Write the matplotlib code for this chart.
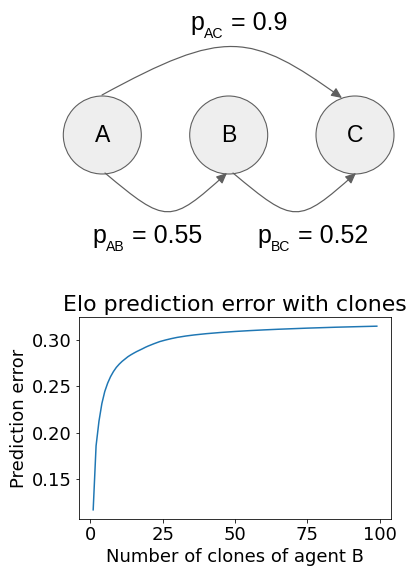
import matplotlib
matplotlib.use("Agg")
import matplotlib.pyplot as plt
from matplotlib import font_manager as fm
from matplotlib.patches import Circle, FancyArrowPatch
from matplotlib.path import Path

# diagram data
agents = ["A", "B", "C"]
edge_names = ["AC", "AB", "BC"]
edge_probs = [0.9, 0.55, 0.52]

# curve
clones = [1, 2, 3, 4, 5, 6, 7, 8, 9, 10, 11, 12, 13, 14, 15, 16, 17, 18, 19,
          20, 22, 24, 26, 28, 30, 33, 36, 40, 45, 50, 55, 60, 65, 70, 75, 80,
          85, 90, 95, 99]
pred_error = [0.117, 0.186, 0.2125, 0.2315, 0.2445, 0.2535, 0.2605, 0.266,
              0.2705, 0.274, 0.277, 0.2795, 0.282, 0.284, 0.2858, 0.2875,
              0.289, 0.2905, 0.2921, 0.2935, 0.296, 0.2983, 0.300, 0.3015,
              0.3028, 0.3043, 0.3055, 0.3068, 0.3081, 0.3092, 0.3101, 0.3109,
              0.3116, 0.3122, 0.3128, 0.3133, 0.3138, 0.3142, 0.3146, 0.3149]

# Arial-like font for the diagram (avoid the Narrow variant)
arial_file = None
for f in fm.fontManager.ttflist:
    if f.fname.endswith("LiberationSans-Regular.ttf"):
        arial_file = f.fname
        break


def dfont(size):
    if arial_file:
        return fm.FontProperties(fname=arial_file, size=size)
    return fm.FontProperties(family="Liberation Sans", stretch="normal", size=size)


fig = plt.figure(figsize=(411 / 72, 568 / 72), dpi=72)

# top: diagram drawn in pixel units
ax_d = fig.add_axes([0, 1 - 260 / 568, 1, 260 / 568])
ax_d.set_xlim(0, 411)
ax_d.set_ylim(260, 0)
ax_d.axis("off")

gray = "#5f5f5f"
centers = {"A": (102.3, 135), "B": (228.7, 135), "C": (355, 135)}
for name in agents:
    cx, cy = centers[name]
    ax_d.add_patch(Circle((cx, cy), 39, facecolor="#eeeeee", edgecolor=gray, lw=1.1))
    ax_d.text(cx, cy + 1, name, ha="center", va="center", fontproperties=dfont(23))

curves = {
    "AC": [(102, 95), (225, 28), (250, 32), (342, 98)],
    "AB": [(105, 173), (166.5, 224.5), (170, 224.5), (227, 173)],
    "BC": [(233, 173), (294.5, 224.5), (298, 224.5), (356, 173)],
}
codes = [Path.MOVETO, Path.CURVE4, Path.CURVE4, Path.CURVE4]
for name in edge_names:
    arr = FancyArrowPatch(path=Path(curves[name], codes),
                          arrowstyle="-|>,head_length=0.55,head_width=0.25",
                          mutation_scale=16, color=gray, lw=1.2)
    ax_d.add_patch(arr)

# labels: "p", subscript, then " = value"
label_pos = {"AC": (190, 30), "AB": (92, 243), "BC": (257, 243)}
for name, p in zip(edge_names, edge_probs):
    x, y = label_pos[name]
    t_p = ax_d.text(x, y, "p", ha="left", va="baseline", fontproperties=dfont(25))
    t_sub = ax_d.annotate(name, xy=(1, 0), xycoords=t_p, xytext=(0.5, -2.5),
                          textcoords="offset points", ha="left", va="baseline",
                          fontproperties=dfont(14))
    ax_d.annotate(" = %s" % p, xy=(1, y), xycoords=(t_sub, "data"),
                  ha="left", va="baseline", fontproperties=dfont(25))

# bottom: prediction error plot
ax = fig.add_axes([79 / 411, 1 - 519 / 568, 312 / 411, 202 / 568])
ax.plot(clones, pred_error)
ax.set_title("Elo prediction error with clones", fontsize=22)
ax.set_xlabel("Number of clones of agent B", fontsize=18)
ax.set_ylabel("Prediction error", fontsize=18)
ax.tick_params(labelsize=18)

fig.savefig("out.png", dpi=72)
